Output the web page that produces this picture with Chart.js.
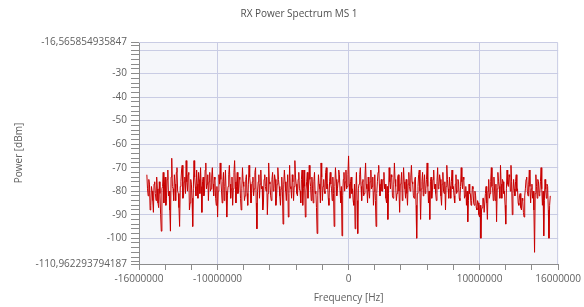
<!DOCTYPE html>
<html><head><meta charset="utf-8">
<script src="https://cdn.jsdelivr.net/npm/chart.js@4/dist/chart.umd.min.js"></script>
<style>html,body{margin:0;padding:0;background:#fff}</style>
</head><body>
<canvas id="c" width="584" height="307"></canvas>
<script>
const chartTitle = 'RX Power Spectrum MS 1';
const xTitle = 'Frequency [Hz]';
const yTitle = 'Power [dBm]';

// sampling grid of the spectrum (Hz)
const freqStartHz = -15400000;
const freqStepHz = 50000;

// power values (dBm), one per frequency bin
const powerDbm = [
-73,-79,-82,-75,-77,-88,-86,-78,-80,-84,-89,-77,-76,-81,-84,-74,-79,-85,-87,-76,
-81,-90,-97,-79,-78,-72,-85,-77,-74,-86,-83,-75,-71,-82,-80,-88,-97,-74,-66,-78,
-79,-84,-73,-77,-84,-72,-70,-80,-81,-87,-95,-78,-76,-71,-69,-83,-82,-76,-74,-81,
-67,-76,-80,-73,-72,-88,-85,-75,-77,-83,-95,-79,-67,-74,-78,-82,-71,-77,-83,-72,
-75,-81,-70,-78,-89,-76,-74,-82,-81,-71,-68,-79,-77,-73,-84,-76,-72,-80,-79,-74,
-70,-77,-82,-74,-75,-83,-86,-78,-91,-80,-73,-77,-68,-75,-80,-85,-76,-72,-84,-78,
-71,-80,-91,-82,-78,-73,-69,-77,-83,-79,-74,-86,-79,-72,-67,-76,-85,-78,-72,-81,
-80,-74,-75,-83,-88,-79,-70,-76,-78,-84,-82,-75,-73,-81,-86,-77,-69,-74,-77,-85,
-81,-76,-74,-82,-79,-72,-70,-85,-96,-80,-76,-73,-83,-77,-71,-79,-78,-88,-85,-75,
-73,-78,-80,-74,-90,-81,-68,-76,-77,-82,-84,-75,-72,-80,-79,-73,-75,-86,-83,-77,
-70,-75,-78,-82,-86,-79,-74,-80,-94,-77,-71,-76,-80,-84,-76,-73,-91,-81,-69,-78,
-79,-83,-73,-76,-84,-78,-67,-74,-77,-81,-82,-75,-72,-79,-80,-85,-75,-71,-86,-79,
-71,-78,-91,-80,-76,-72,-83,-77,-69,-75,-78,-84,-74,-79,-85,-76,-72,-81,-80,-87,
-98,-82,-73,-77,-79,-85,-68,-74,-84,-78,-75,-80,-81,-72,-70,-79,-77,-83,-86,-76,
-72,-77,-79,-84,-74,-81,-95,-78,-70,-75,-82,-79,-76,-71,-73,-80,-85,-78,-99,-82,
-75,-72,-80,-76,-71,-79,-78,-73,-65,-77,-83,-76,-74,-81,-79,-84,-86,-77,-96,-80,
-72,-84,-98,-79,-77,-73,-70,-78,-84,-76,-75,-82,-81,-74,-68,-77,-79,-85,-74,-80,
-83,-76,-71,-79,-78,-74,-86,-80,-73,-84,-95,-81,-76,-72,-69,-77,-82,-78,-75,-80,
-80,-75,-72,-79,-77,-83,-85,-78,-92,-81,-70,-76,-79,-73,-74,-82,-83,-77,-68,-75,
-78,-84,-81,-74,-73,-80,-89,-77,-76,-72,-84,-79,-70,-76,-79,-83,-75,-81,-86,-77,
-72,-78,-80,-74,-69,-76,-77,-82,-83,-75,-74,-86,-100,-81,-78,-73,-71,-80,-92,-79,
-76,-72,-82,-77,-73,-81,-79,-75,-68,-78,-85,-80,-92,-76,-74,-83,-80,-75,-71,-79,
-77,-81,-84,-76,-70,-79,-78,-73,-75,-82,-86,-77,-72,-80,-81,-76,-88,-78,-69,-75,
-79,-83,-74,-78,-83,-76,-71,-79,-78,-82,-85,-77,-73,-81,-80,-75,-76,-83,-84,-78,
-70,-76,-79,-74,-75,-83,-82,-78,-86,-80,-93,-84,-77,-81,-81,-86,-84,-78,-79,-85,
-86,-80,-82,-87,-88,-84,-85,-90,-91,-86,-100,-88,-87,-83,-83,-89,-89,-81,-78,-85,
-92,-80,-75,-83,-81,-76,-70,-78,-79,-84,-74,-80,-84,-77,-93,-79,-72,-76,-78,-83,
-69,-77,-83,-75,-76,-81,-80,-86,-94,-79,-71,-77,-78,-73,-74,-80,-69,-76,-90,-81,
-75,-79,-82,-76,-73,-80,-79,-85,-86,-82,-81,-87,-88,-83,-84,-89,-91,-82,-79,-75,
-74,-80,-82,-77,-71,-78,-85,-79,-77,-83,-80,-88,-106,-81,-73,-78,-83,-75,-76,-82,
-81,-76,-70,-79,-86,-80,-99,-84,-75,-79,-83,-77,-78,-88,-100,-86,-82
];

const xMin = -16000000;
const xMax = 16000000;
const xMinorStep = 2000000;
const xLabelTicks = [-16000000, -10000000, 0, 10000000, 16000000];
const xGridTicks = [-10000000, 0, 10000000];

const yMin = -110.962293794187;
const yMax = -16.565854935847;
const yMinorStep = 2;
const yLabelTicks = [-30, -40, -50, -60, -70, -80, -90, -100];
const yGridTicks = [-20, -30, -40, -50, -60, -70, -80, -90, -100];

const points = powerDbm.map((v, i) => ({ x: freqStartHz + i * freqStepHz, y: v }));

const FONT = "'Open Sans', 'Noto Sans', sans-serif";
const gridCol = '#c9cce4';
const axisCol = '#8c8c8c';
const txtCol = '#606060';

const decoPlugin = {
  id: 'deco',
  beforeDraw(chart) {
    const { ctx, chartArea: a } = chart;
    ctx.save();
    ctx.fillStyle = '#f5f6fa';
    ctx.fillRect(a.left, a.top, a.right - a.left, a.bottom - a.top);
    ctx.restore();
  },
  beforeDatasetsDraw(chart) {
    const { ctx, chartArea: a } = chart;
    ctx.save();
    ctx.strokeStyle = gridCol;
    ctx.lineWidth = 1;
    ctx.beginPath();
    ctx.moveTo(a.left, a.top + 0.5);
    ctx.lineTo(a.right - 0.5, a.top + 0.5);
    ctx.lineTo(a.right - 0.5, a.bottom);
    ctx.stroke();
    ctx.restore();
  },
  afterDraw(chart) {
    const { ctx } = chart;
    ctx.save();
    ctx.fillStyle = '#505050';
    ctx.font = '10px ' + FONT;
    ctx.textAlign = 'center';
    ctx.textBaseline = 'middle';
    ctx.fillText(chartTitle, 299, 14);
    ctx.restore();
  }
};

function fmtEdge(v) { return String(v).replace('.', ','); }

new Chart(document.getElementById('c'), {
  type: 'line',
  data: {
    datasets: [{
      data: points,
      borderColor: 'rgb(200,0,0)',
      borderWidth: 1,
      pointRadius: 0,
      tension: 0,
      fill: false
    }]
  },
  options: {
    responsive: false,
    animation: false,
    events: [],
    layout: { padding: { top: 42, right: 25, bottom: 0, left: 0 } },
    plugins: { legend: { display: false }, title: { display: false }, tooltip: { enabled: false } },
    scales: {
      x: {
        type: 'linear',
        min: xMin, max: xMax,
        afterBuildTicks(scale) {
          const t = [];
          for (let v = xMin; v <= xMax; v += xMinorStep) t.push({ value: v });
          scale.ticks = t;
        },
        afterFit(scale) { scale.height = 43; },
        ticks: {
          autoSkip: false, maxRotation: 0, minRotation: 0,
          padding: 3,
          color: txtCol,
          font: { family: FONT, size: 10 },
          callback(v) { return xLabelTicks.includes(v) ? String(v) : ''; }
        },
        grid: {
          drawOnChartArea: true,
          color(ctx) { return ctx.tick && xGridTicks.includes(ctx.tick.value) ? gridCol : 'rgba(0,0,0,0)'; },
          tickColor: axisCol,
          tickLength: 6,
          lineWidth: 1
        },
        border: { display: true, color: axisCol, width: 1 },
        title: {
          display: true, text: xTitle, color: txtCol,
          font: { family: FONT, size: 10 },
          padding: { top: 0, bottom: 3 }
        }
      },
      y: {
        type: 'linear',
        min: yMin, max: yMax,
        afterBuildTicks(scale) {
          const t = [{ value: yMin }];
          for (let v = -110; v <= -18; v += yMinorStep) t.push({ value: v });
          t.push({ value: yMax });
          scale.ticks = t;
        },
        afterFit(scale) { scale.width = 139; },
        ticks: {
          autoSkip: false,
          padding: 4,
          color: txtCol,
          font: { family: FONT, size: 10 },
          callback(v) {
            if (v === yMin || v === yMax) return fmtEdge(v);
            return yLabelTicks.includes(v) ? String(v) : '';
          }
        },
        grid: {
          drawOnChartArea: true,
          color(ctx) { return ctx.tick && yGridTicks.includes(ctx.tick.value) ? gridCol : 'rgba(0,0,0,0)'; },
          tickColor: axisCol,
          tickLength: 8,
          lineWidth: 1
        },
        border: { display: true, color: axisCol, width: 1 },
        title: {
          display: true, text: yTitle, color: txtCol,
          font: { family: FONT, size: 10 },
          padding: { top: 13, bottom: 0 }
        }
      }
    }
  },
  plugins: [decoPlugin]
});
</script>
</body></html>
